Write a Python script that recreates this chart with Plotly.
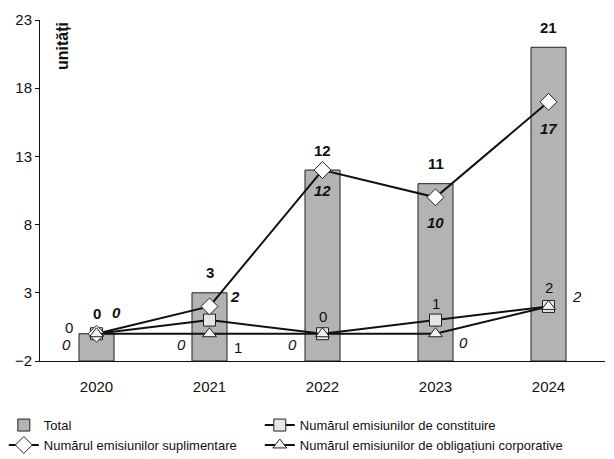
import plotly.graph_objects as go

years = ["2020", "2021", "2022", "2023", "2024"]
total = [0, 3, 12, 11, 21]
suplimentare = [0, 2, 12, 10, 17]
constituire = [0, 1, 0, 1, 2]
obligatiuni = [0, 0, 0, 0, 2]
y_ticks = [-2, 3, 8, 13, 18, 23]

AXIS_MIN, AXIS_MAX = -2, 23
FONT = "Liberation Sans Narrow, Arial Narrow, Liberation Sans, Arial, sans-serif"

fig = go.Figure()
fig.add_trace(go.Bar(
    x=years, y=[v - AXIS_MIN for v in total], base=[AXIS_MIN] * len(total),
    name="Total", marker=dict(color="#b3b3b3", line=dict(color="#222", width=1)),
    width=0.31, hoverinfo="skip", legend="legend", legendgroup="a"))
fig.add_trace(go.Scatter(
    x=years, y=constituire, name="Numărul emisiunilor de constituire",
    mode="lines+markers", line=dict(color="#111", width=2), legend="legend2", legendgroup="b",
    marker=dict(symbol="square", size=12, color="#e6e6e6", line=dict(color="#222", width=1))))
fig.add_trace(go.Scatter(
    x=years, y=suplimentare, name="Numărul emisiunilor suplimentare",
    mode="lines+markers", line=dict(color="#111", width=2), legend="legend", legendgroup="c",
    marker=dict(symbol="diamond", size=13, color="#ffffff", line=dict(color="#222", width=1))))
fig.add_trace(go.Scatter(
    x=years, y=obligatiuni, name="Numărul emisiunilor de obligațiuni corporative",
    mode="lines+markers", line=dict(color="#111", width=2), legend="legend2", legendgroup="d",
    marker=dict(symbol="triangle-up", size=12, color="#f2f2f2", line=dict(color="#222", width=1))))

ann = []
def lab(i, y, t, dx, dy, bold=False, italic=False):
    txt = str(t)
    if bold:
        txt = "<b>" + txt + "</b>"
    if italic:
        txt = "<i>" + txt + "</i>"
    ann.append(dict(x=i, y=y, xref="x", yref="y", text=txt, showarrow=False,
                    xshift=dx, yshift=dy, font=dict(size=15, color="#111", family=FONT)))

for i in range(len(years)):
    lab(i, total[i], total[i], 0, 20, bold=True)

sup_off = [(20, 21), (25, 10), (0, -20), (0, -25), (0, -27)]
for i in range(len(years)):
    lab(i, suplimentare[i], suplimentare[i], *sup_off[i], bold=True, italic=True)

con_off = [(-28, 6), (28, -27), (0, 17), (0, 17), (0, 19)]
for i in range(len(years)):
    lab(i, constituire[i], constituire[i], *con_off[i])

obl_off = [(-30, -11), (-28, -11), (-30, -11), (28, -9), (28, 10)]
for i in range(len(years)):
    lab(i, obligatiuni[i], obligatiuni[i], *obl_off[i], italic=True)

ann.append(dict(x=0.039, y=1.0, xref="paper", yref="paper", text="<b>unități</b>",
                textangle=-90, showarrow=False, xanchor="center", yanchor="top",
                font=dict(size=16, color="#111", family=FONT)))

leg_common = dict(orientation="v", yanchor="top", xanchor="left", traceorder="normal",
                  font=dict(size=13, family=FONT), itemwidth=30, tracegroupgap=14,
                  bgcolor="rgba(0,0,0,0)")
fig.update_layout(
    width=606, height=451,
    margin=dict(l=32, r=9, t=12, b=98, autoexpand=False),
    paper_bgcolor="white", plot_bgcolor="white",
    font=dict(family=FONT, size=14, color="#111"),
    showlegend=True,
    legend=dict(x=-0.064, y=-0.144, **leg_common),
    legend2=dict(x=0.389, y=-0.144, **leg_common),
    annotations=ann,
)
fig.update_xaxes(type="category", range=[-0.5, 4.5], showline=True, linecolor="#111",
                 linewidth=1, ticks="", showgrid=False, tickfont=dict(size=15),
                 ticklabelstandoff=12)
fig.update_yaxes(range=[AXIS_MIN, AXIS_MAX], tickvals=y_ticks, showline=True, linecolor="#111",
                 linewidth=1, ticks="outside", ticklen=4, tickcolor="#111", showgrid=False,
                 zeroline=False, tickfont=dict(size=15))

fig.write_html("out.html")
